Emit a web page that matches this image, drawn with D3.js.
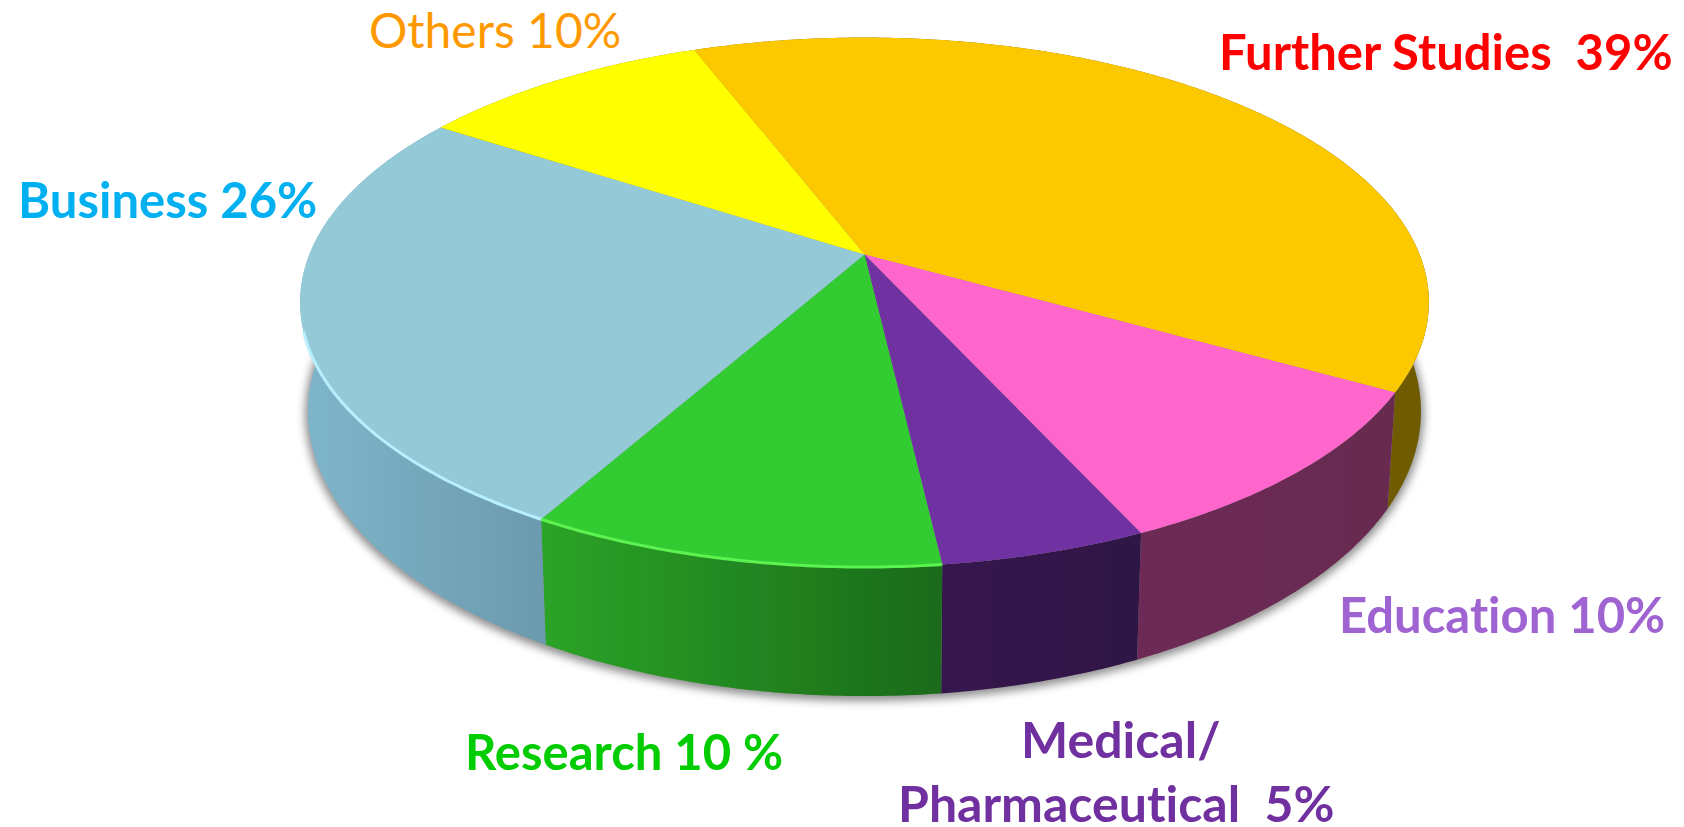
<!DOCTYPE html>
<html>
<head>
<meta charset="utf-8">
<script src="https://cdn.jsdelivr.net/npm/d3@7"></script>
<style>
  html, body { margin: 0; padding: 0; background: #fff; overflow: hidden; }
  text { font-family: Lato, "Open Sans", sans-serif; white-space: pre; font-variant-ligatures: none; }
</style>
</head>
<body>
<div id="piechart"></div>
<script>
// chart values
var categories = ["Further Studies", "Education", "Medical/Pharmaceutical", "Research", "Business", "Others"];
var percents = [39, 10, 5, 10, 26, 10];

// styles, same order as categories
var topColors = ["#fcc800", "#ff66cc", "#7030a0", "#33cc33", "#94c9d8", "#ffff00"];
var wallStart = ["#8a6d00", "#6d2b56", "#36184f", "#2ba427", "#7fb6cb", "#888800"];
var wallEnd = ["#6f5a00", "#672a50", "#2e1244", "#1b6a1a", "#6c9aae", "#888800"];
var rimColors = [null, null, null, "#5cf24f", "#b8efff", null];

// labels
var labelLines = [
  ["Further Studies  39%"], ["Education 10%"], ["Medical/", "Pharmaceutical  5%"],
  ["Research 10 %"], ["Business 26%"], ["Others 10%"]
];
var labelColors = ["#ff0000", "#a064d2", "#7030a0", "#00cc00", "#00b0f0", "#ff9900"];
var labelX = [[1219], [1339], [1021, 898], [465], [18], [369]];
var labelY = [[70], [633], [758, 822], [770], [218], [48]];
var labelWeight = [700, 700, 700, 700, 700, 400];
var labelSize = [49, 49, 50, 49, 49, 48];

var width = 1684,
  height = 827;

// the disc is a circle seen in perspective
var tilt = 0.1805,
  thickness = 105.8,
  taper = 0.986;

var xPlane = d3.scaleLinear().domain([-1, 1]).range([309.4, 1419.6]);
var yPlane = d3.scaleLinear().domain([-1, 1]).range([-1.6, 510.6]);
var cx = xPlane(0);

var pie = d3.pie()
  .sort(null)
  .startAngle(339 * Math.PI / 180)
  .endAngle((339 + 360) * Math.PI / 180)
  .value(function(d) { return d; });

var slices = pie(percents);

var project = function(angle, r, drop) {
  var u = r * Math.sin(angle),
    v = -r * Math.cos(angle),
    w = 1 - tilt * v;
  var x = xPlane(u / w),
    y = yPlane(v / w);
  if (drop) {
    x = cx + taper * (x - cx);
    y = y + thickness / w;
  }
  return [x, y];
};

var arcPoints = function(d, drop) {
  var pts = d3.range(d.startAngle, d.endAngle, 0.01).map(function(a) {
    return project(a, 1, drop);
  });
  pts.push(project(d.endAngle, 1, drop));
  return pts;
};

var line = d3.line();

var topPath = function(d) {
  return line([project(0, 0, false)].concat(arcPoints(d, false))) + "Z";
};

var wallPath = function(d) {
  return line(arcPoints(d, false).concat(arcPoints(d, true).reverse())) + "Z";
};

var bottomPath = function(d) {
  return line([project(0, 0, true)].concat(arcPoints(d, true))) + "Z";
};

var svg = d3.select("#piechart").append("svg")
  .attr("width", width)
  .attr("height", height)
  .style("display", "block");

var defs = svg.append("defs");

defs.append("filter").attr("id", "shadowBlur")
  .attr("x", "-10%").attr("y", "-10%").attr("width", "120%").attr("height", "120%")
  .append("feGaussianBlur").attr("stdDeviation", 4);

defs.append("filter").attr("id", "soft")
  .attr("x", "-5%").attr("y", "-5%").attr("width", "110%").attr("height", "110%")
  .append("feGaussianBlur").attr("stdDeviation", 0.7);

// shading runs left to right across each wall, in page coordinates
slices.forEach(function(d, i) {
  var xs = d3.extent(arcPoints(d, false), function(p) { return p[0]; });
  var grad = defs.append("linearGradient").attr("id", "wall" + i)
    .attr("gradientUnits", "userSpaceOnUse")
    .attr("x1", xs[0]).attr("x2", xs[1]).attr("y1", 0).attr("y2", 0);
  grad.append("stop").attr("offset", "0%").attr("stop-color", wallStart[i]);
  grad.append("stop").attr("offset", "100%").attr("stop-color", wallEnd[i]);
});

// shadow under the disc, only the bottom outline so the back edge stays clean
svg.append("g")
  .attr("filter", "url(#shadowBlur)")
  .attr("fill", "#555")
  .attr("stroke", "#555")
  .attr("stroke-width", 6)
  .attr("opacity", 0.65)
  .attr("transform", "translate(0,2)")
  .selectAll("path")
  .data(slices)
  .enter().append("path")
  .attr("d", bottomPath);

var disc = svg.append("g").attr("filter", "url(#soft)");

disc.selectAll(".wall")
  .data(slices)
  .enter().append("path")
  .attr("class", "wall")
  .attr("d", wallPath)
  .attr("fill", function(d, i) { return "url(#wall" + i + ")"; });

disc.selectAll(".top")
  .data(slices)
  .enter().append("path")
  .attr("class", "top")
  .attr("d", topPath)
  .attr("fill", function(d, i) { return topColors[i]; });

// light rim on the front left of the top face
disc.selectAll(".rim")
  .data(slices.filter(function(d, i) { return rimColors[i]; }))
  .enter().append("path")
  .attr("class", "rim")
  .attr("d", function(d) {
    var pts = arcPoints(d, false).filter(function(p) { return p[1] > 330; });
    return line(pts);
  })
  .attr("fill", "none")
  .attr("stroke", function(d) { return rimColors[d.index]; })
  .attr("stroke-width", 3);

// labels
categories.forEach(function(c, i) {
  labelLines[i].forEach(function(t, j) {
    svg.append("text")
      .attr("x", labelX[i][j])
      .attr("y", labelY[i][j])
      .attr("fill", labelColors[i])
      .attr("font-size", labelSize[i])
      .attr("font-weight", labelWeight[i])
      .text(t);
  });
});
</script>
</body>
</html>
